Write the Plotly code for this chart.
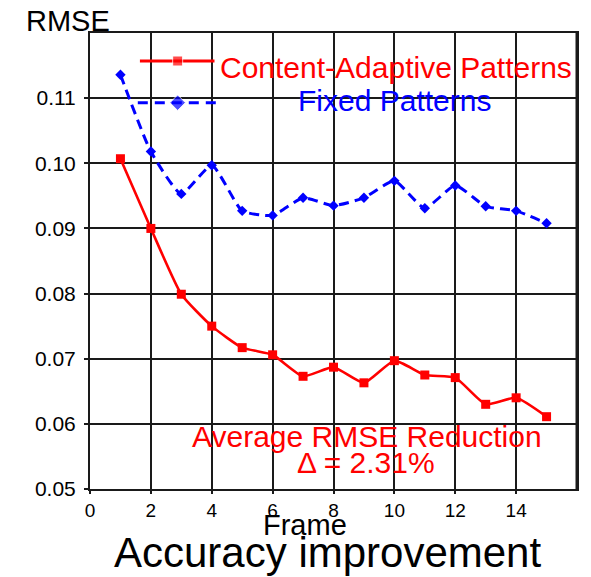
import plotly.graph_objects as go

# Frame index and per-frame RMSE for both pattern strategies
frames = list(range(1, 16))
rmse_adaptive = [0.1007, 0.0900, 0.0799, 0.0750, 0.0717, 0.0706, 0.0673, 0.0687,
                 0.0663, 0.0697, 0.0675, 0.0671, 0.0630, 0.0640, 0.0611]
rmse_fixed = [0.1136, 0.1018, 0.0953, 0.0997, 0.0927, 0.0920, 0.0947, 0.0935,
              0.0947, 0.0973, 0.0931, 0.0966, 0.0934, 0.0927, 0.0908]

x_ticks = [0, 2, 4, 6, 8, 10, 12, 14]
y_ticks = [0.05, 0.06, 0.07, 0.08, 0.09, 0.10, 0.11]
y_tick_labels = ["0.05", "0.06", "0.07", "0.08", "0.09", "0.10", "0.11"]

series_names = ["Content-Adaptive Patterns", "Fixed Patterns"]
reduction_label = "Average RMSE Reduction"
reduction_value = "\u0394 = 2.31%"

RED = "#ff0000"
BLUE = "#0000ff"
GRID = "#1a1a1a"
FONT = "Liberation Sans, Arial, sans-serif"

X_RANGE = [0, 16]
Y_RANGE = [0.05, 0.12]

fig = go.Figure()

fig.add_trace(go.Scatter(
    x=frames, y=rmse_adaptive, mode="lines+markers",
    line=dict(color=RED, width=2.6, shape="spline", smoothing=0.5),
    marker=dict(symbol="square", size=9, color=RED),
    showlegend=False,
))
fig.add_trace(go.Scatter(
    x=frames, y=rmse_fixed, mode="lines+markers",
    line=dict(color=BLUE, width=3, dash="10px,6px", shape="spline", smoothing=0.5),
    marker=dict(symbol="diamond", size=8, color=BLUE),
    showlegend=False,
))

# Hand-placed legend keys inside the plot (line sample with a marker in its middle)
fig.add_trace(go.Scatter(
    x=[1.64, 2.88, 4.09], y=[0.1157] * 3, mode="lines+markers",
    line=dict(color=RED, width=3),
    marker=dict(symbol="square", size=[0, 10, 0], color=RED),
    showlegend=False, hoverinfo="skip",
))
fig.add_trace(go.Scatter(
    x=[1.57, 2.88, 4.19], y=[0.1093] * 3, mode="lines+markers",
    line=dict(color=BLUE, width=3, dash="10px,7px"),
    marker=dict(symbol="diamond", size=[0, 12, 0], color=BLUE),
    showlegend=False, hoverinfo="skip",
))

annotations = [
    dict(text=series_names[0], x=0.262, y=0.925, xanchor="left", yanchor="middle",
         font=dict(size=30, color=RED)),
    dict(text=series_names[1], x=0.422, y=0.851, xanchor="left", yanchor="middle",
         font=dict(size=30, color=BLUE)),
    dict(text=reduction_label, x=0.5685, y=0.115, xanchor="center", yanchor="middle",
         font=dict(size=30, color=RED)),
    dict(text=reduction_value, x=0.5675, y=0.059, xanchor="center", yanchor="middle",
         font=dict(size=30, color=RED)),
    dict(text="RMSE", x=-0.045, y=1.0274, xanchor="center", yanchor="middle",
         font=dict(size=29, color="black")),
    dict(text="Frame", x=0.4407, y=-0.079, xanchor="center", yanchor="middle",
         font=dict(size=29, color="black")),
    dict(text="Accuracy improvement", x=0.4867, y=-0.140, xanchor="center", yanchor="middle",
         font=dict(size=42, color="black")),
]
for a in annotations:
    a.update(xref="paper", yref="paper", showarrow=False)

fig.update_layout(
    width=591, height=577,
    margin=dict(l=90, r=12, t=33, b=88),
    paper_bgcolor="white", plot_bgcolor="white",
    font=dict(family=FONT, color="black"),
    annotations=annotations,
    shapes=[
        # heavier right-hand frame edge
        dict(type="line", xref="paper", yref="paper", x0=1, x1=1, y0=0, y1=1,
             line=dict(color=GRID, width=3), layer="above"),
    ],
)

fig.update_xaxes(
    range=X_RANGE, tickvals=x_ticks, ticks="outside", ticklen=3, tickwidth=2,
    tickcolor=GRID, showgrid=True, gridcolor=GRID, gridwidth=2,
    showline=True, mirror=True, linecolor=GRID, linewidth=2, zeroline=False,
    tickfont=dict(size=19, color="black"),
)
fig.update_yaxes(
    range=Y_RANGE, tickvals=y_ticks, ticktext=y_tick_labels, ticks="outside",
    ticklen=4, tickwidth=2, tickcolor=GRID, showgrid=True, gridcolor=GRID,
    gridwidth=2, showline=True, mirror=True, linecolor=GRID, linewidth=2,
    zeroline=False, tickfont=dict(size=21, color="black"), ticklabelstandoff=4,
)

fig.write_html("out.html")
